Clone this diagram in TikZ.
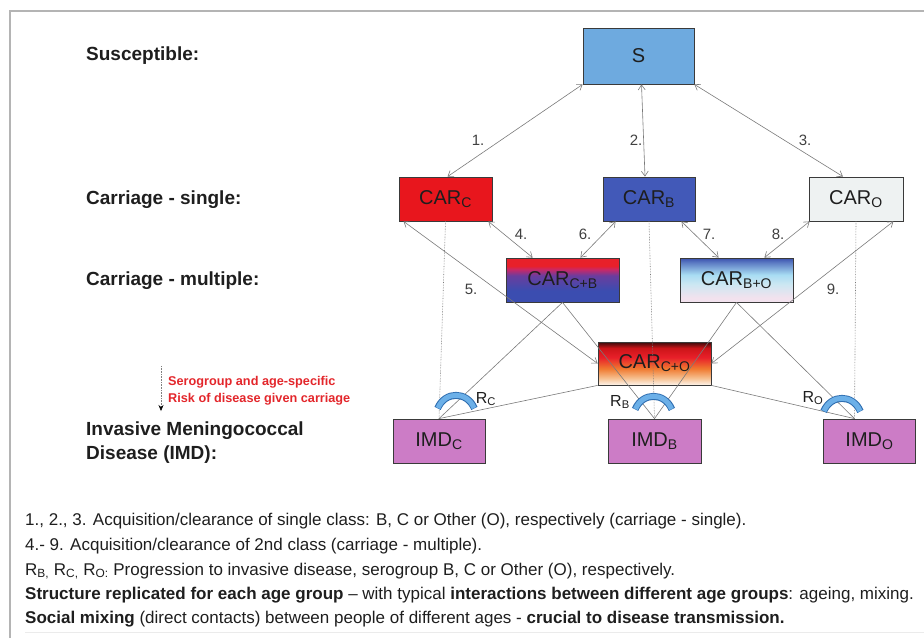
\documentclass[tikz,border=0pt]{standalone}
\usepackage{fontspec}
\setmainfont{Liberation Sans}
\usetikzlibrary{arrows.meta}

\definecolor{frameGray}{HTML}{B4B4B4}
\definecolor{linkGray}{HTML}{7A7A7A}
\definecolor{boxLine}{HTML}{3A3A3A}
\definecolor{txtDark}{HTML}{1E1E1E}
\definecolor{sBlue}{HTML}{6EAADF}
\definecolor{cRed}{HTML}{E8161D}
\definecolor{bBlue}{HTML}{4259B8}
\definecolor{oGray}{HTML}{EEF2F2}
\definecolor{imdPink}{HTML}{CC7CC6}
\definecolor{riskRed}{HTML}{E3262B}
\definecolor{gateFill}{HTML}{6CB0E8}
\definecolor{gateLine}{HTML}{2E6DB0}
% gradient colours
\definecolor{gBlue}{HTML}{3B4DB0}
\definecolor{gPurple}{HTML}{6A3D9E}
\definecolor{gMagenta}{HTML}{C82868}
\definecolor{gRed}{HTML}{E8202A}
\definecolor{gDeep}{HTML}{3A50AE}
\definecolor{gSky}{HTML}{A8DDF3}
\definecolor{gIce}{HTML}{CDE7F2}
\definecolor{gPale}{HTML}{F2E2EE}
\definecolor{gDark}{HTML}{3A0A0A}
\definecolor{gCrim}{HTML}{CC1418}
\definecolor{gOrange}{HTML}{F07A30}
\definecolor{gPeach}{HTML}{F6C090}
\definecolor{gCream}{HTML}{FDF3EA}

\pgfdeclareverticalshading{carCB}{100bp}{color(0bp)=(gBlue); color(25bp)=(gBlue);
  color(38bp)=(gBlue); color(55bp)=(gPurple); color(62bp)=(gMagenta);
  color(66bp)=(gRed); color(75bp)=(gRed); color(100bp)=(gRed)}
\pgfdeclareverticalshading{carBO}{100bp}{color(0bp)=(gPale); color(25bp)=(gPale);
  color(30bp)=(gPale); color(45bp)=(gIce); color(56bp)=(gSky);
  color(70bp)=(gDeep!70!gSky); color(75bp)=(gDeep); color(100bp)=(gDeep)}
\pgfdeclareverticalshading{carCO}{100bp}{color(0bp)=(gCream); color(25bp)=(gCream);
  color(33bp)=(gPeach); color(44bp)=(gOrange); color(57bp)=(gRed);
  color(68bp)=(gCrim); color(75bp)=(gDark); color(100bp)=(gDark)}

\begin{document}
\begin{tikzpicture}[x=1pt,y=-1pt,>={Straight Barb[length=5pt,width=7pt]},
  box/.style={draw=boxLine,line width=0.8pt,inner sep=0pt,text=txtDark,
    font=\fontsize{20}{24}\selectfont},
  tier/.style={anchor=west,align=left,inner sep=0pt,text=txtDark,
    font=\bfseries\fontsize{19}{24}\selectfont},
  note/.style={anchor=west,inner sep=0pt,text=txtDark,
    font=\fontsize{17}{19}\selectfont},
  num/.style={inner sep=0pt,text=txtDark!85,font=\fontsize{15}{18}\selectfont},
  link/.style={draw=linkGray,line width=0.6pt},
  dotlink/.style={draw=linkGray,line width=0.6pt,densely dotted},
  gate/.style={line width=#1},
  rlabel/.style={inner sep=0pt,text=txtDark,font=\fontsize{16}{18}\selectfont}]
  \useasboundingbox (0,0) rectangle (924,638);

  % frame
  \draw[frameGray,line width=2pt] (10,638) -- (10,11) -- (924,11);
  \draw[black!8,line width=0.8pt] (25,632) -- (924,632);

  % tier headings
  \node[tier] (hS) at (86,56) {Susceptible:};
  \node[tier] (hSingle) at (86,200) {Carriage - single:};
  \node[tier] (hMulti) at (86,281) {Carriage - multiple:};
  \node[tier] (hIMD) at (86,443) {Invasive Meningococcal\\Disease (IMD):};

  % risk note
  \node[anchor=west,align=left,inner sep=0pt,text=riskRed,
    font=\bfseries\fontsize{12.7}{17}\selectfont] (risk) at (168,391)
    {Serogroup and age-specific\\Risk of disease given carriage};
  \coordinate (riskTop) at (161,366);
  \coordinate (riskEnd) at (161,411);
  \draw[gray,line width=0.6pt,densely dotted,
    -{Stealth[black,length=6pt,width=5pt]}] (riskTop) -- (riskEnd);

  % compartments
  \node[box,fill=sBlue,minimum width=111,minimum height=56] (S) at (638.5,56) {S};
  \node[box,fill=cRed,minimum width=93,minimum height=44] (CARc) at (445.5,199)
    {CAR\textsubscript{C}};
  \node[box,fill=bBlue,minimum width=92,minimum height=44] (CARb) at (649,199)
    {CAR\textsubscript{B}};
  \node[box,fill=oGray,minimum width=94,minimum height=44] (CARo) at (856,199)
    {CAR\textsubscript{O}};
  \node[box,shading=carCB,minimum width=113,minimum height=44] (CARcb) at (562.5,280)
    {CAR\textsubscript{C+B}};
  \node[box,shading=carBO,minimum width=113,minimum height=44] (CARbo) at (736.5,280)
    {CAR\textsubscript{B+O}};
  \node[box,shading=carCO,minimum width=113,minimum height=43] (CARco) at (654.5,363.5)
    {CAR\textsubscript{C+O}};
  \node[box,fill=imdPink,minimum width=92,minimum height=44] (IMDc) at (439,441)
    {IMD\textsubscript{C}};
  \node[box,fill=imdPink,minimum width=93,minimum height=44] (IMDb) at (654.5,441)
    {IMD\textsubscript{B}};
  \node[box,fill=imdPink,minimum width=92,minimum height=44] (IMDo) at (869.5,441)
    {IMD\textsubscript{O}};

  % acquisition / clearance
  \draw[link,<->] (S.south west) -- ([xshift=2pt]CARc.north);
  \draw[link,<->] ([xshift=3pt]S.south) -- ([xshift=-4pt]CARb.north);
  \draw[link,<->] (S.south east) -- ([xshift=-13pt]CARo.north);
  \draw[link,<->] ([xshift=-4pt]CARc.south east) -- ([xshift=27pt]CARcb.north west);
  \draw[link,<->] ([xshift=13pt]CARb.south west) -- ([xshift=-39pt]CARcb.north east);
  \draw[link,<->] ([xshift=-14pt]CARb.south east) -- ([xshift=39pt]CARbo.north west);
  \draw[link,<->] ([xshift=1pt]CARo.south west) -- ([xshift=-29pt]CARbo.north east);
  \draw[link,<->] (CARco.west) -- ([xshift=5pt]CARc.south west);
  \draw[link,<->] (CARco.east) -- ([xshift=-10pt]CARo.south east);
  \node[num] (n1) at (478,140) {1.};
  \node[num] (n2) at (636,140) {2.};
  \node[num] (n3) at (805,140) {3.};
  \node[num] (n4) at (521,234) {4.};
  \node[num] (n6) at (585,234) {6.};
  \node[num] (n7) at (709,234) {7.};
  \node[num] (n8) at (778,234) {8.};
  \node[num] (n5) at (471,289) {5.};
  \node[num] (n9) at (833,289) {9.};

  % progression to disease
  \coordinate (IMDoTop) at ([xshift=-15pt]IMDo.north);
  \draw[link] (CARcb.south) -- (IMDc.north);
  \draw[link] (CARcb.south) -- (IMDb.north);
  \draw[link] (CARbo.south) -- (IMDb.north);
  \draw[link] (CARbo.south) -- (IMDoTop);
  \draw[link] (CARco.south west) -- (IMDc.north);
  \draw[link] (CARco.south east) -- (IMDoTop);
  \draw[dotlink] (CARc.south) -- (IMDc.north);
  \draw[dotlink] (CARb.south) -- (IMDb.north);
  \draw[dotlink] (CARo.south) -- (IMDoTop);

  % risk gates
  \foreach \gx/\gy in {456/0,653.5/1,842/3}{
    \draw[gate=7pt,gateLine] (\gx-18.4,408.4+\gy) .. controls (\gx-11,391+\gy)
      and (\gx+11,391+\gy) .. (\gx+18.4,408.4+\gy);
    \draw[gate=5pt,gateFill] (\gx-18,408+\gy) .. controls (\gx-11,391+\gy)
      and (\gx+11,391+\gy) .. (\gx+18,408+\gy);
  }
  \node[rlabel] (Rc) at (486,399) {R\textsubscript{C}};
  \node[rlabel] (Rb) at (620,402) {R\textsubscript{B}};
  \node[rlabel] (Ro) at (813,398) {R\textsubscript{O}};

  % legend
  \node[note] (l1) at (25,521) {1., 2., 3. Acquisition/clearance of single class: B, C or Other (O), respectively (carriage - single).};
  \node[note] (l2) at (25,546) {4.- 9. Acquisition/clearance of 2nd class (carriage - multiple).};
  \node[note] (l3) at (25,571) {R\textsubscript{B,} R\textsubscript{C,} R\textsubscript{O:} Progression to invasive disease, serogroup B, C or Other (O), respectively.};
  \node[note] (l4) at (25,595) {\textbf{Structure replicated for each age group} – with typical \textbf{interactions between different age groups}: ageing, mixing.};
  \node[note] (l5) at (25,619) {\textbf{Social mixing} (direct contacts) between people of different ages - \textbf{crucial to disease transmission.}};
\end{tikzpicture}
\end{document}
